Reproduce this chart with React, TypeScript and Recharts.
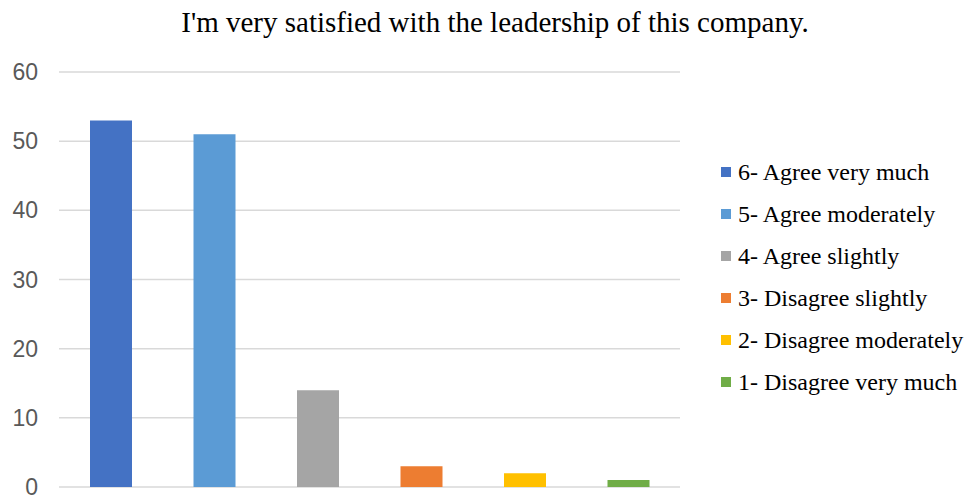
import { BarChart, Bar, Cell, XAxis, YAxis, CartesianGrid } from 'recharts';

const categories = [
  '6- Agree very much',
  '5- Agree moderately',
  '4- Agree slightly',
  '3- Disagree slightly',
  '2- Disagree moderately',
  '1- Disagree very much',
];
const counts = [53, 51, 14, 3, 2, 1];
const colors = ['#4472C4', '#5B9BD5', '#A5A5A5', '#ED7D31', '#FFC000', '#70AD47'];
const yTicks = [0, 10, 20, 30, 40, 50, 60];

const data = categories.map((name, i) => ({ name, value: counts[i] }));

const serif = '"Liberation Serif", "Times New Roman", serif';
const sans = '"Liberation Sans", Arial, sans-serif';

export default function App() {
  return (
    <div style={{ position: 'absolute', left: 0, top: 0, width: 965, height: 497, background: '#fff' }}>
      <div
        style={{
          position: 'absolute',
          left: 0,
          top: 6,
          width: 990,
          textAlign: 'center',
          fontFamily: serif,
          fontSize: 29,
          lineHeight: 'normal',
          color: '#000',
        }}
      >
        I'm very satisfied with the leadership of this company.
      </div>
      <BarChart
        width={965}
        height={497}
        data={data}
        margin={{ top: 72, right: 285, left: 0, bottom: 10 }}
      >
        <CartesianGrid horizontal vertical={false} stroke="#d9d9d9" strokeWidth={1.5} />
        <XAxis dataKey="name" hide />
        <YAxis
          width={59}
          domain={[0, 60]}
          ticks={yTicks}
          interval={0}
          axisLine={false}
          tickLine={false}
          tickSize={0}
          tickMargin={21}
          tick={{ fill: '#595959', fontSize: 23, fontFamily: sans }}
        />
        <Bar dataKey="value" barSize={42} isAnimationActive={false}>
          {data.map((d, i) => (
            <Cell key={d.name} fill={colors[i]} />
          ))}
        </Bar>
      </BarChart>
      {/* legend, one row per category */}
      <div
        style={{
          position: 'absolute',
          left: 721,
          top: 151,
          fontFamily: serif,
          fontSize: 24,
          color: '#000',
        }}
      >
        {categories.map((c, i) => (
          <div key={c} style={{ display: 'flex', alignItems: 'center', height: 42 }}>
            <span style={{ width: 10, height: 10, background: colors[i], marginRight: 7, flexShrink: 0 }} />
            <span style={{ whiteSpace: 'nowrap' }}>{c}</span>
          </div>
        ))}
      </div>
    </div>
  );
}
